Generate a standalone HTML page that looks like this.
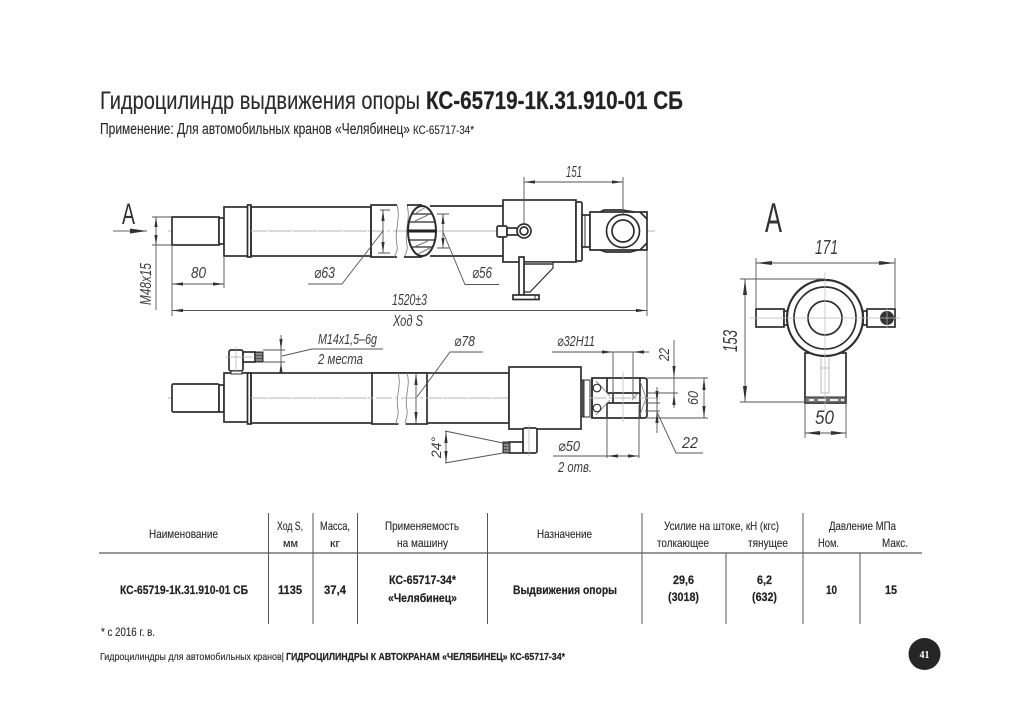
<!DOCTYPE html>
<html><head><meta charset="utf-8"><style>
html,body{margin:0;padding:0;background:#fff}
svg{display:block}
.t{font-family:"Liberation Sans","DejaVu Sans",sans-serif;fill:#2b2b2b;stroke:#2b2b2b;stroke-width:.12}
.b{font-weight:bold;fill:#222;stroke:#222;stroke-width:.2}
.d{font-family:"Liberation Sans","DejaVu Sans",sans-serif;font-style:italic;fill:#3c3c3c}
.u{font-family:"Liberation Sans","DejaVu Sans",sans-serif;fill:#333}
.o{fill:#fff;stroke:#2e2e2e;stroke-width:1.7}
.n{fill:none;stroke:#2e2e2e;stroke-width:1.7}
.h{fill:none;stroke:#777;stroke-width:.8}
.c{fill:none;stroke:#b5b5b5;stroke-width:.9;stroke-dasharray:16 3 3 3}
.s{fill:none;stroke:#555;stroke-width:.9}
.r{fill:#333;stroke:none}
</style></head><body>
<svg width="1024" height="724" viewBox="0 0 1024 724" xmlns="http://www.w3.org/2000/svg">
<defs><clipPath id="el"><ellipse cx="422" cy="231" rx="14" ry="25"/></clipPath></defs>
<rect width="1024" height="724" fill="#fff"/>

<text class="t" x="100" y="109" font-size="25" textLength="320" lengthAdjust="spacingAndGlyphs">Гидроцилиндр выдвижения опоры</text>
<text class="t b" x="426" y="109" font-size="25" textLength="257" lengthAdjust="spacingAndGlyphs">КС-65719-1К.31.910-01 СБ</text>
<text class="t" x="100" y="134" font-size="15.500" textLength="310" lengthAdjust="spacingAndGlyphs">Применение: Для автомобильных кранов «Челябинец»</text>
<text class="t" x="413" y="134" font-size="11.500" textLength="61" lengthAdjust="spacingAndGlyphs">КС-65717-34*</text>

<!-- TOP VIEW -->
<line class="c" x1="168" y1="231" x2="655" y2="231"/>
<rect class="o" x="172" y="217" width="47" height="28"/>
<rect class="o" x="219" y="218" width="5" height="26"/>
<rect class="o" x="224" y="207" width="24" height="49"/>
<rect class="o" x="247.500" y="205" width="3.500" height="52"/>
<rect class="n" x="251" y="207" width="120" height="49"/>
<line class="c" x1="251" y1="231" x2="371" y2="231"/>
<path class="n" d="M397 205H371V257H397"/>
<path class="h" d="M397 205C401 218 394 232 397 245C398 250 396 254 394 257M407 205C411 218 404 232 407 245C408 250 406 254 404 257"/>
<path class="n" d="M407 205H422M404 257H422"/>
<path class="n" d="M430 206H503M430 256H503"/>
<line class="c" x1="430" y1="231" x2="503" y2="231"/>
<ellipse cx="422" cy="231" rx="14" ry="25" fill="#fff" stroke="#2a2a2a" stroke-width="2"/>
<g clip-path="url(#el)">
<path stroke="#2a2a2a" fill="none" stroke-width="1.300" d="M405 214H440M405 222H440M405 240H440M405 247H440"/>
<path stroke="#222" stroke-width="3" fill="none" d="M405 231H440"/>
<path stroke="#777" fill="none" d="M416 213L426 207M415 221L428 215M414 247L428 241M418 254L430 248"/>
</g>

<rect class="o" x="503" y="200" width="73" height="62"/>
<rect class="o" x="576" y="202" width="6" height="59" rx="1.500"/>
<rect class="o" x="582" y="215" width="8" height="32"/>
<line x1="585" y1="215" x2="585" y2="247" stroke="#333"/>
<path class="o" d="M590 212H647V250H590Z"/>
<path class="n" d="M640 212L647 219M640 250L647 243M600 212L604 210H622L634 212M600 250L606 252H630L638 250"/>
<circle cx="623" cy="231" r="16.500" class="o"/>
<circle cx="623" cy="231" r="11" class="o"/>
<rect class="o" x="497" y="226" width="10" height="11" rx="1.500"/>
<rect class="o" x="507" y="228" width="14" height="7"/>
<circle cx="524" cy="231" r="7" class="o"/>
<circle cx="524" cy="231" r="4" class="o" stroke-width="1.200"/>
<path class="o" d="M524 262H553V268L530 292H524Z" style="stroke-width:1.200"/>
<line x1="524" y1="264" x2="553" y2="264" stroke="#333" stroke-width="1.500"/>
<rect class="o" x="519" y="257" width="5" height="38"/>
<rect class="o" x="513" y="295" width="26" height="4.500"/>
<line x1="535" y1="295" x2="535" y2="299" stroke="#333"/>

<!-- top dimensions -->
<path class="s" d="M524 177V224M623 177V214M152 217H172M152 245H172M172 245V316M224 256V288M647 250V316M380 210H390M378 253H390M437 214H449M437 248H449M156 217V310M524 182H623M172 284H224M172 310.500H647M383 210V253M443 214V248M383 231L342 284H308M443 232L465 284.500H499"/>
<path class="r" d="M524 182L535 180.400V183.600ZM623 182L612 180.400V183.600ZM172 284L183 282.400V285.600ZM224 284L213 282.400V285.600ZM172 310.500L183 308.900V312.100ZM647 310.500L636 308.900V312.100ZM156 217L154.400 227H157.600ZM156 245L154.400 235H157.600ZM383 210L381.400 221H384.600ZM383 253L381.400 242H384.600ZM443 214L441.400 224H444.600ZM443 248L441.400 238H444.600Z"/>
<text class="d" x="566" y="177" font-size="16" textLength="16" lengthAdjust="spacingAndGlyphs">151</text>
<text class="d" x="191" y="278" font-size="16" textLength="15" lengthAdjust="spacingAndGlyphs">80</text>
<text class="d" x="314" y="278" font-size="16" textLength="21" lengthAdjust="spacingAndGlyphs">⌀63</text>
<text class="d" x="472" y="278" font-size="16" textLength="20" lengthAdjust="spacingAndGlyphs">⌀56</text>
<text class="d" x="392" y="305" font-size="16" textLength="35" lengthAdjust="spacingAndGlyphs">1520±3</text>
<text class="d" x="393" y="326" font-size="16" textLength="30" lengthAdjust="spacingAndGlyphs">Ход S</text>
<text class="d" font-size="16" transform="translate(151,305) rotate(-90)" textLength="42" lengthAdjust="spacingAndGlyphs">М48х15</text>
<text class="u" x="122" y="224" font-size="30" textLength="13" lengthAdjust="spacingAndGlyphs">А</text>
<line x1="113" y1="231" x2="147" y2="231" stroke="#666"/>
<path class="r" d="M147 231L130 228.500V233.500Z"/>

<!-- BOTTOM VIEW -->
<line class="c" x1="168" y1="398" x2="655" y2="398"/>
<rect class="o" x="172" y="384" width="47" height="28" rx="1.500"/>
<rect class="o" x="219" y="385" width="5" height="27"/>
<rect class="o" x="224" y="373" width="24" height="49"/>
<rect class="o" x="247.500" y="373" width="3.500" height="51"/>
<rect class="n" x="251" y="373" width="258" height="50"/>
<rect class="o" x="372" y="373" width="55" height="51"/>
<path class="h" d="M398 373C402 385 395 397 398 410C399 416 396 420 396 424M407 373C411 385 404 397 407 410C408 416 405 420 405 424"/>
<rect fill="#fff" x="398.500" y="423" width="7" height="2"/>
<line class="c" x1="251" y1="398" x2="510" y2="398"/>
<rect class="o" x="509" y="367" width="72" height="62"/>
<rect x="581" y="380" width="9" height="37" fill="#555" stroke="#2e2e2e"/>
<rect x="584" y="380" width="6" height="37" fill="#fff" stroke="#2e2e2e"/>
<path class="o" d="M592 378H644Q647 378 647 381V415Q647 418 644 418H592Z"/>
<path class="n" d="M607 378V393M607 403V418M607 393H640M607 403H640M613 393V403M640 378V418M592 378V418"/>
<path class="h" d="M596 381L610 396M610 400L596 415M640 381L646 398L640 415M638 393L632 400"/>
<circle cx="597" cy="388" r="3.800" class="o" style="stroke-width:1.200"/>
<circle cx="597" cy="408" r="3.800" class="o" style="stroke-width:1.200"/>
<line class="c" x1="590" y1="398" x2="660" y2="398"/>
<line x1="623" y1="372" x2="623" y2="422" stroke="#c0c0c0" stroke-width=".8"/>

<!-- fittings -->
<rect class="o" x="229" y="350" width="14" height="21" rx="2"/>
<rect class="o" x="231" y="371" width="11" height="3" style="stroke-width:1"/>
<rect class="o" x="243" y="352" width="12" height="10"/>
<rect x="255" y="352" width="8" height="10" fill="#555" stroke="#2e2e2e"/>
<path d="M256 354H262M256 357H262M256 360H262" stroke="#ddd" stroke-width=".8"/>
<line x1="226" y1="357" x2="252" y2="357" stroke="#aaa" stroke-width=".7"/>
<line x1="236" y1="347" x2="236" y2="375" stroke="#aaa" stroke-width=".7"/>
<rect class="o" x="523" y="428" width="14" height="25" rx="2"/>
<rect class="o" x="509" y="442" width="14" height="11"/>
<rect x="503" y="442" width="7" height="11" fill="#555" stroke="#2e2e2e"/>
<path d="M504 445H509M504 448H509M504 451H509" stroke="#ddd" stroke-width=".8"/>
<line x1="529" y1="425" x2="529" y2="456" stroke="#aaa" stroke-width=".7"/>

<!-- bottom dimensions -->
<path class="s" d="M263 350H285M263 362H285M281 335V373M282 356L312 349H383M417 397L450 352H483M552 352H649M613 352V398M633 352V398M647 378H708M647 393H678M647 418H708M645 403H660M645 411H660M674 340V408M657 387V433M657 412L676 453H703M607 405V458M639 405V458M553 456H639M445 431L503 443M445 463L503 453M446 431V463M416 373V424M704 378V418"/>
<path class="r" d="M281 350L279.400 339H282.600ZM281 362L279.400 373H282.600ZM613 352L602 350.400V353.600ZM633 352L644 350.400V353.600ZM674 378L672.400 366H675.600ZM674 393L672.400 405H675.600ZM657 403L655.400 391H658.600ZM657 411L655.400 423H658.600ZM607 456L618 454.400V457.600ZM639 456L628 454.400V457.600ZM446 431L444.400 443H447.600ZM446 463L444.400 451H447.600ZM416 373L414.400 385H417.600ZM416 424L414.400 412H417.600ZM704 378L702.400 390H705.600ZM704 418L702.400 406H705.600Z"/>
<text class="d" x="318" y="344" font-size="14.500" textLength="59" lengthAdjust="spacingAndGlyphs">М14х1,5–6g</text>
<text class="d" x="318" y="364" font-size="14.500" textLength="45" lengthAdjust="spacingAndGlyphs">2 места</text>
<text class="d" x="454" y="346" font-size="15" textLength="21" lengthAdjust="spacingAndGlyphs">⌀78</text>
<text class="d" x="557" y="346" font-size="15" textLength="38" lengthAdjust="spacingAndGlyphs">⌀32H11</text>
<text class="d" x="558" y="451" font-size="15" textLength="22" lengthAdjust="spacingAndGlyphs">⌀50</text>
<text class="d" x="558" y="472" font-size="15" textLength="34" lengthAdjust="spacingAndGlyphs">2 отв.</text>
<text class="d" x="682" y="448" font-size="16" textLength="16" lengthAdjust="spacingAndGlyphs">22</text>
<text class="d" font-size="15" transform="translate(669,361) rotate(-90)" textLength="13" lengthAdjust="spacingAndGlyphs">22</text>
<text class="d" font-size="15" transform="translate(698,405) rotate(-90)" textLength="14" lengthAdjust="spacingAndGlyphs">60</text>
<text class="d" font-size="14" transform="translate(441,458) rotate(-90)" textLength="21" lengthAdjust="spacingAndGlyphs">24°</text>

<!-- VIEW A -->
<text class="u" x="765" y="232" font-size="42" textLength="17" lengthAdjust="spacingAndGlyphs">А</text>
<rect class="o" x="805" y="353" width="41" height="50"/>
<rect x="805" y="397" width="41" height="6" fill="#777" stroke="#2e2e2e"/>
<path d="M809 400H814M818 400H826M830 400H838M841 400H844" stroke="#eee" stroke-width="2"/>
<path d="M821 358V393H829V358M821 368H829" fill="none" stroke="#aaa" stroke-width=".8"/>
<rect class="o" x="756" y="309" width="28" height="18"/>
<rect class="o" x="784" y="311" width="4" height="14"/>
<rect class="o" x="863" y="311" width="4" height="14"/>
<rect class="o" x="867" y="309" width="28" height="18"/>
<circle cx="887" cy="318" r="7" fill="#333"/>
<circle cx="825" cy="318" r="38" class="o" style="stroke-width:2.200"/>
<circle cx="825" cy="318" r="31" class="n"/>
<circle cx="825" cy="318" r="17" class="o"/>
<path d="M749 318H900M825 272V410M887 308V328" fill="none" stroke="#bbb" stroke-width=".7"/>
<path class="s" d="M756 258V309M895 258V309M740 279H825M740 402H805M745 279V402M805 403V438M846 403V438M756 263H895M805 433H846"/>
<path class="r" d="M756 263L772 261V265ZM895 263L879 261V265ZM745 279L743 295H747ZM745 402L743 386H747ZM805 433L820 431V435ZM846 433L831 431V435Z"/>
<text class="d" x="815" y="254" font-size="20" textLength="23" lengthAdjust="spacingAndGlyphs">171</text>
<text class="d" x="815" y="424" font-size="19" textLength="19" lengthAdjust="spacingAndGlyphs">50</text>
<text class="d" font-size="20" transform="translate(737,352) rotate(-90)" textLength="22" lengthAdjust="spacingAndGlyphs">153</text>

<!-- TABLE -->
<line x1="99" y1="553" x2="922" y2="553" stroke="#777" stroke-width="1.500"/>
<path stroke="#555" stroke-width="1" fill="none" d="M268.500 513V624M313 513V624M357.500 513V624M487.500 513V624M642 513V624M726 553V624M803 513V624M860 553V624"/>
<g font-size="12">
<text class="t" x="149" y="538" textLength="69" lengthAdjust="spacingAndGlyphs">Наименование</text>
<text class="t" x="277" y="530" textLength="26" lengthAdjust="spacingAndGlyphs">Ход S,</text>
<text class="t" x="283" y="547" font-size="11" textLength="15" lengthAdjust="spacingAndGlyphs">мм</text>
<text class="t" x="320" y="530" textLength="30" lengthAdjust="spacingAndGlyphs">Масса,</text>
<text class="t" x="330" y="547" font-size="11" textLength="10" lengthAdjust="spacingAndGlyphs">кг</text>
<text class="t" x="385" y="530" textLength="74" lengthAdjust="spacingAndGlyphs">Применяемость</text>
<text class="t" x="397" y="547" textLength="51" lengthAdjust="spacingAndGlyphs">на машину</text>
<text class="t" x="537" y="538" textLength="55" lengthAdjust="spacingAndGlyphs">Назначение</text>
<text class="t" x="664" y="530" textLength="115" lengthAdjust="spacingAndGlyphs">Усилие на штоке, кН (кгс)</text>
<text class="t" x="657" y="547" textLength="52" lengthAdjust="spacingAndGlyphs">толкающее</text>
<text class="t" x="748" y="547" textLength="40" lengthAdjust="spacingAndGlyphs">тянущее</text>
<text class="t" x="829" y="530" textLength="67" lengthAdjust="spacingAndGlyphs">Давление МПа</text>
<text class="t" x="818" y="547" textLength="21" lengthAdjust="spacingAndGlyphs">Ном.</text>
<text class="t" x="882" y="547" textLength="26" lengthAdjust="spacingAndGlyphs">Макс.</text>
<text class="t b" x="120" y="594" textLength="128" lengthAdjust="spacingAndGlyphs">КС-65719-1К.31.910-01 СБ</text>
<text class="t b" x="278" y="594" textLength="24" lengthAdjust="spacingAndGlyphs">1135</text>
<text class="t b" x="324" y="594" textLength="22" lengthAdjust="spacingAndGlyphs">37,4</text>
<text class="t b" x="389" y="584" textLength="67" lengthAdjust="spacingAndGlyphs">КС-65717-34*</text>
<text class="t b" x="388" y="602" textLength="69" lengthAdjust="spacingAndGlyphs">«Челябинец»</text>
<text class="t b" x="513" y="594" textLength="104" lengthAdjust="spacingAndGlyphs">Выдвижения опоры</text>
<text class="t b" x="673" y="584" textLength="21" lengthAdjust="spacingAndGlyphs">29,6</text>
<text class="t b" x="668" y="601" textLength="31" lengthAdjust="spacingAndGlyphs">(3018)</text>
<text class="t b" x="757" y="584" textLength="15" lengthAdjust="spacingAndGlyphs">6,2</text>
<text class="t b" x="752" y="601" textLength="25" lengthAdjust="spacingAndGlyphs">(632)</text>
<text class="t b" x="826" y="594" textLength="11" lengthAdjust="spacingAndGlyphs">10</text>
<text class="t b" x="885" y="594" textLength="12" lengthAdjust="spacingAndGlyphs">15</text>
<text class="t" x="101" y="636" textLength="54" lengthAdjust="spacingAndGlyphs">* с 2016 г. в.</text>
</g>
<text class="t" x="100" y="660" font-size="10.500" textLength="184" lengthAdjust="spacingAndGlyphs">Гидроцилиндры для автомобильных кранов|</text>
<text class="t b" x="286" y="660" font-size="10.500" textLength="279" lengthAdjust="spacingAndGlyphs">ГИДРОЦИЛИНДРЫ К АВТОКРАНАМ «ЧЕЛЯБИНЕЦ» КС-65717-34*</text>
<circle cx="924.500" cy="654" r="16" fill="#262626"/>
<text x="924.500" y="658" font-family="'Liberation Serif',serif" font-weight="bold" font-size="10" fill="#fff" text-anchor="middle">41</text>
</svg>
</body></html>
